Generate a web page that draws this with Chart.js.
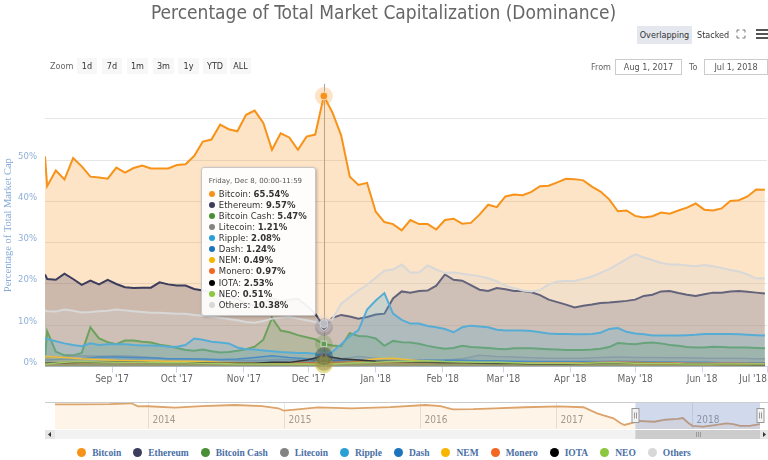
<!DOCTYPE html>
<html lang="en">
<head>
<meta charset="UTF-8">
<meta name="viewport" content="width=device-width, initial-scale=1.0">
<title>Percentage of Total Market Capitalization (Dominance)</title>
<script src="https://cdn.jsdelivr.net/npm/chart.js"></script>
<style>
  body { margin: 0; width: 768px; height: 460px; overflow: hidden; position: relative; background: #fff;
         font-family: "Liberation Sans Narrow", "DejaVu Sans Condensed", "Liberation Sans", sans-serif; }
  #mainBox { position: absolute; left: 0; top: 0; width: 768px; height: 395px; }
  #navBox { position: absolute; left: 0; top: 395px; width: 768px; height: 47px; }
  .btn { position: absolute; top: 58px; height: 16px; line-height: 16px; font-size: 9px; color: #333;
         text-align: center; background: #f7f7f7; }
  .lbl { position: absolute; font-size: 9px; color: #666; }
  .box { position: absolute; top: 59px; height: 14px; line-height: 14px; border: 1px solid #ccc; font-size: 9px;
         color: #555; text-align: center; background: #fff; }
  #tip { position: absolute; display: none; background: rgba(255,255,255,0.93); border: 1px solid #c6c6c6;
         border-radius: 3px; box-shadow: 1px 1px 3px rgba(0,0,0,0.25); padding: 9px 8px 4px 7px;
         font-family: "DejaVu Sans", sans-serif; color: #333; white-space: nowrap; pointer-events: none; }
  #tip .t { font-size: 7px; color: #555; margin-bottom: 4px; }
  #tip .r { font-size: 8.5px; line-height: 11.1px; }
  #tip .d { display: inline-block; width: 6px; height: 6px; border-radius: 50%; margin-right: 4px; }
  #legend { position: absolute; left: 0; top: 448px; width: 768px; text-align: center; white-space: nowrap;
            font: bold 9.5px "Liberation Serif", serif; color: #4a6fa5; }
  #legend .li { margin: 0 6px; }
  #legend .li i { display: inline-block; width: 9px; height: 9px; border-radius: 50%; margin-right: 6px; vertical-align: -1px; }
</style>
</head>
<body>
  <div id="mainBox"><canvas id="mainChart"></canvas></div>
  <div id="navBox"><canvas id="navChart"></canvas></div>

  <div class="btn" style="left:637px;top:26px;width:55px;height:18px;line-height:18px;background:#e4e7ee;">Overlapping</div>
  <div class="lbl" style="left:697px;top:26px;line-height:18px;color:#333;">Stacked</div>
  <svg style="position:absolute;left:736px;top:29px" width="10" height="10" viewBox="0 0 10 10">
    <path d="M1 3.5V1h2.5M6.5 1H9v2.5M9 6.5V9H6.5M3.5 9H1V6.5" fill="none" stroke="#777" stroke-width="1"/>
  </svg>
  <svg style="position:absolute;left:756px;top:29px" width="12" height="10" viewBox="0 0 12 10">
    <path d="M0 1h12M0 5h12M0 9h12" stroke="#555" stroke-width="2"/>
  </svg>

  <div class="lbl" style="left:50px;top:58px;line-height:16px;">Zoom</div>
  <div class="btn" style="left:77px;width:20px;">1d</div>
  <div class="btn" style="left:102px;width:20px;">7d</div>
  <div class="btn" style="left:127px;width:21px;">1m</div>
  <div class="btn" style="left:153px;width:21px;">3m</div>
  <div class="btn" style="left:178px;width:21px;">1y</div>
  <div class="btn" style="left:203px;width:24px;">YTD</div>
  <div class="btn" style="left:230px;width:21px;">ALL</div>

  <div class="lbl" style="right:157px;top:59px;line-height:16px;">From</div>
  <div class="box" style="left:615px;width:65px;">Aug 1, 2017</div>
  <div class="lbl" style="left:689px;top:59px;line-height:16px;">To</div>
  <div class="box" style="left:704px;width:62px;">Jul 1, 2018</div>

  <div id="tip"></div>
  <div id="legend"></div>

<script>
// x positions: days since Aug 1, 2017
const days = [0,1,5,9,13,17,21,25,29,33,37,41,45,49,53,57,61,65,69,73,77,81,85,89,93,97,101,105,109,113,
  117,121,125,129,133,137,141,145,149,153,157,161,165,169,173,177,181,185,189,193,197,201,205,209,213,217,
  221,225,229,233,237,241,245,249,253,257,261,265,269,273,277,281,285,289,293,297,301,305,309,313,317,321,
  325,329,333];
const minorDays = [0,1,9,17,25,33,41,49,57,65,73,81,89,97,105,113,121,129,137,145,153,161,169,177,185,193,
  201,209,217,225,233,241,249,257,265,273,281,289,297,305,313,321,329,333];

const bitcoin = [50.9,43.7,47.5,45.3,50.5,48.5,46,45.8,45.5,48.2, 47,48.1,48.7,48,48,48,48.8,49,51,54.5,
  55,58.6,57.5,57,61,62,59,52.5,56.5,55.5, 52.5,55.7,56.2,65.54,61.5,56,46,44,44.5,37.5,
  35,34.5,33,35.5,34.5,34.5,33.2,35.5,35.8,34.6, 34.8,36.8,39.2,38.6,41.2,41.7,41.5,42.3,43.7,43.8,
  44.6,45.5,45.4,45.1,43.6,42.4,40.5,37.6,37.8,36.5, 36.1,36.4,37.3,37,37.8,38.5,39.5,38,37.8,38.3,
  40.1,40.3,41.2,42.9,42.8];
const ethereum = [22.3,21.2,21,22.5,21.2,19.8,20.8,19.9,21,20, 19.2,19,19.1,19.1,20.4,19.9,19.6,19.6,18.8,18.4,
  18,17.3,16.8,16.4,15.2,14.8,15.5,16.5,15.8,16.2, 16.4,14.8,12.8,9.57,11.8,12.5,12.1,11.6,12,12.6,
  12.8,16.5,18.2,17.9,18.3,18.4,19.6,22.3,21,20.8, 19.7,18.6,18.3,19,18.7,18.3,18.3,18,17.3,16.2,
  15.6,15,14.3,14.7,15,15.4,15.5,15.7,15.9,16.2, 17.1,17.4,18.2,18.3,17.8,17.4,17.1,17.5,17.9,17.9,
  18.2,18.3,18.1,17.9,17.7];
const bitcoinCash = [2,8.5,3.6,2.7,2.7,3.3,9.5,6.8,5.9,5.4, 6.3,6.3,6,5.8,5.3,5,4.5,4,3.8,4.1,
  3.7,3.4,3.5,3.8,4.2,4.8,6.5,11.8,8.7,8.3, 7.6,7.1,6.6,5.47,5.1,4.9,8.1,7.4,7.3,6.8,
  5,6.2,5.9,5.8,5.5,5,4.6,4.3,4.5,5, 4.7,4.6,4.5,4.3,4.2,4.4,4.4,4.4,4.3,4.2,
  4.1,4,4,4,4.1,4.3,4.7,5.7,5.5,5.4, 5.7,5.8,5.6,5.2,5,4.7,4.6,4.6,4.8,4.7,
  4.6,4.6,4.6,4.5,4.4];
const litecoin = [2.1,2.1,2.3,2.6,2.5,2.6,2.5,2.2,1.9,1.8, 1.7,1.6,1.5,1.4,1.6,1.7,1.6,1.21,1.9,2.4,
  2.0,1.6,1.6,1.5,1.6,1.9,2.7,2.4,2.3,2.1, 2.0,2.0,2.0,2.2,2.3,2.2,2.2,2.1,2.1,2.0, 2.0,2.0,1.9,1.9];
const ripple = [6.9,6.7,6.1,5.6,5.2,4.9,5.6,5.2,5.4,5.4, 5.4,5.2,5.1,5.1,5,4.8,4.8,5.2,6.8,6.5,
  6,5.8,5.6,4.6,4.2,4.1,3.9,3.7,3.5,3.4, 3.3,3.3,3.1,2.08,3.6,5.4,7.3,8.8,13.8,16,
  17.8,12.8,11.3,10.4,10.4,9.8,9.5,9.1,8.3,9.5, 9.9,9.7,9.5,8.9,8.7,8.7,8.7,8.6,8.3,8,
  7.9,7.9,7.8,7.8,7.9,8.2,9.1,9.3,8.4,8, 7.8,7.5,7.5,7.5,7.5,7.6,7.7,7.9,7.9,7.9,
  7.9,7.8,7.7,7.6,7.5];
const dash = [1.6,1.6,1.8,1.9,2.3,2.3,2.2,2.1,1.9,1.9, 1.8,1.7,1.8,2.2,2.6,2.2,1.9,1.24,1.6,1.6,
  1.4,1.4,1.4,1.5,1.5,1.5,1.4,1.4,1.3,1.2, 1.2,1.2,1.2,1.2,1.3,1.2,1.1,1.1,1.0,1.0, 0.9,0.9,0.9,0.9];
const nem = [2.4,2.4,2.2,1.9,1.7,1.5,1.4,1.4,1.3,1.3, 1.2,1.0,0.9,0.8,0.8,0.7,0.7,0.49,0.9,1.3,
  1.9,2.0,1.6,1.2,1.0,0.9,0.8,0.8,0.7,0.7, 0.7,0.7,0.7,0.8,0.8,0.7,0.6,0.6,0.6,0.5, 0.5,0.5,0.5,0.5];
const monero = [0.7,0.7,0.8,0.9,1.0,1.0,0.9,0.9,0.9,0.9, 0.8,0.8,0.7,0.7,0.8,0.8,0.9,0.97,1.0,1.0,
  0.9,0.9,0.9,0.9,0.9,0.9,0.9,0.8,0.8,0.8, 0.9,0.9,0.9,1.0,1.1,1.0,0.9,0.9,0.8,0.8, 0.8,0.8,0.7,0.7];
const iota = [0.8,0.8,0.9,1.0,1.0,1.1,1.0,0.9,0.9,0.9, 0.9,0.8,0.8,0.8,1.0,1.0,1.6,2.53,1.9,1.6,
  1.3,1.2,1.1,1.0,0.9,0.9,0.8,0.7,0.7,0.6, 0.6,0.6,0.7,0.8,0.8,0.8,0.7,0.7,0.6,0.6, 0.5,0.5,0.4,0.4];
const neo = [0.6,0.6,1.0,1.2,1.1,1.0,1.0,0.9,0.9,0.9, 0.8,0.7,0.6,0.6,0.6,0.6,0.6,0.51,0.7,0.9,
  1.0,1.2,1.3,1.4,1.2,1.1,1.0,1.0,0.9,0.8, 0.8,0.8,0.8,0.9,0.9,0.8,0.7,0.7,0.6,0.6, 0.6,0.6,0.6,0.6];
const others = [13.6,13.4,13.3,13.8,13.5,13.1,13.2,13.4,13.5,13.8, 13.6,13.4,13.2,13,13,12.9,12.8,12.8,12.5,12.3,
  12.1,11.8,11.5,11.2,10.8,10.6,11,11.6,11.8,12, 11.6,11.2,10.8,10.38,11.5,15.2,16.8,18.4,19.8,21.5,
  23.2,23.5,24.7,22.8,22.8,24.5,23.5,22.7,22.8,22.5, 22.2,21.9,21.4,20.7,19.6,19,18.4,18.2,18.5,19.9,
  20.6,20.7,20.7,21.2,21.8,22.7,23.6,24.8,26,27.2, 26.4,25.8,25.1,24.7,24.7,24.5,24.3,24.6,24.3,23.9,
  23.4,23,22.3,21.3,21.4];

const seriesNames = ['Bitcoin', 'Ethereum', 'Bitcoin Cash', 'Litecoin', 'Ripple', 'Dash', 'NEM', 'Monero', 'IOTA', 'NEO', 'Others'];
const seriesValues = [bitcoin, ethereum, bitcoinCash, litecoin, ripple, dash, nem, monero, iota, neo, others];
const seriesDays = [days, days, days, minorDays, days, minorDays, minorDays, minorDays, minorDays, minorDays, days];

// month ticks (first one is Aug 1 and stays blank)
const monthTickDays = [0, 31, 61, 92, 122, 153, 184, 212, 243, 273, 304, 334];
const monthLabels = ['', "Sep '17", "Oct '17", "Nov '17", "Dec '17", "Jan '18", "Feb '18", "Mar '18", "Apr '18", "May '18", "Jun '18", "Jul '18"];
const yTicks = [0, 10, 20, 30, 40, 50, 60];

// navigator: whole-history Bitcoin share, x in years
const navYears = [2013.32,2013.5,2013.72,2013.88,2013.93,2014.0,2014.2,2014.4,2014.64,2014.84,2014.96,2015.0,2015.1,
  2015.25,2015.5,2015.78,2016.04,2016.15,2016.24,2016.39,2016.55,2016.77,2017.02,2017.2,2017.3,2017.42,2017.47,
  2017.5,2017.58,2017.6,2017.72,2017.8,2017.89,2017.93,2017.97,2018.0,2018.08,2018.15,2018.25,2018.3,2018.35,
  2018.42,2018.496];
const navBitcoin = [91,91,91.5,93.8,86,86.5,83,87,89.6,87,81.4,75.4,78.9,83.8,81.4,84.5,89.6,87,78.9,79.5,81.4,84,86,
  84,69,56.6,45,40,47,50,48,53,55,57.3,45,38,36,39,44,42,38,38,42];
const navYearTicks = [2014, 2015, 2016, 2017, 2018];
const rangeStart = 2017.581, rangeEnd = 2018.496;

const activeDay = 129; // Friday, Dec 8

// styling
const seriesColors = ['#f7931a', '#3c3c5d', '#4a8f36', '#838383', '#2a9fd6', '#1c75bc', '#f8b500', '#f26822', '#000000', '#8dc63f', '#d8d8d8'];
const markerStyles = ['circle', 'rectRot', 'rect', 'triangle', 'triangle', 'circle', 'rectRot', 'rect', 'triangle', 'triangle', 'circle'];
const markerRotation = [0, 0, 0, 0, 180, 0, 0, 0, 0, 180, 0];
const sansNarrow = '"Liberation Sans Narrow", "DejaVu Sans Condensed", "Liberation Sans", sans-serif';

function alpha(hex, a) {
  const n = parseInt(hex.slice(1), 16);
  return `rgba(${(n >> 16) & 255},${(n >> 8) & 255},${n & 255},${a})`;
}

const weekdays = ['Sunday', 'Monday', 'Tuesday', 'Wednesday', 'Thursday', 'Friday', 'Saturday'];
const months = ['Jan', 'Feb', 'Mar', 'Apr', 'May', 'Jun', 'Jul', 'Aug', 'Sep', 'Oct', 'Nov', 'Dec'];
function dayTitle(d) {
  const dt = new Date(2017, 7, 1 + d);
  return `${weekdays[dt.getDay()]}, ${months[dt.getMonth()]} ${dt.getDate()}, 00:00-11:59`;
}

function renderTooltip(context) {
  const { chart, tooltip } = context;
  const el = document.getElementById('tip');
  if (tooltip.opacity === 0 || !tooltip.dataPoints || !tooltip.dataPoints.length) {
    el.style.display = 'none';
    return;
  }
  const pts = tooltip.dataPoints.slice().sort((a, b) => a.datasetIndex - b.datasetIndex);
  const day = pts[0].parsed.x;
  let html = `<div class="t">${dayTitle(day)}</div>`;
  pts.forEach(p => {
    html += `<div class="r"><span class="d" style="background:${seriesColors[p.datasetIndex]}"></span>` +
      `${p.dataset.label}: <b>${p.parsed.y.toFixed(2)}%</b></div>`;
  });
  el.innerHTML = html;
  el.style.display = 'block';
  const x = chart.scales.x.getPixelForValue(day);
  el.style.left = (x - 8 - el.offsetWidth) + 'px';
  el.style.top = (chart.chartArea.top + 83) + 'px';
}

// crosshair behind the series, halos on hovered points
const hoverDecor = {
  id: 'hoverDecor',
  beforeDatasetsDraw(chart) {
    const act = chart.getActiveElements();
    if (!act.length) return;
    const { ctx, chartArea } = chart;
    const x = Math.round(act[0].element.x) + 0.5;
    ctx.save();
    ctx.strokeStyle = '#a8a8a8';
    ctx.lineWidth = 1;
    ctx.beginPath();
    ctx.moveTo(x, chartArea.top);
    ctx.lineTo(x, chartArea.bottom);
    ctx.stroke();
    ctx.restore();
  },
  afterDatasetsDraw(chart) {
    const { ctx } = chart;
    ctx.save();
    chart.getActiveElements().forEach(a => {
      ctx.fillStyle = alpha(seriesColors[a.datasetIndex], 0.25);
      ctx.beginPath();
      ctx.arc(a.element.x, a.element.y, 9, 0, Math.PI * 2);
      ctx.fill();
    });
    ctx.restore();
  }
};

const datasets = seriesNames.map((name, i) => ({
  label: name,
  data: seriesDays[i].map((d, j) => ({ x: d, y: seriesValues[i][j] })),
  borderColor: seriesColors[i],
  backgroundColor: alpha(seriesColors[i], 0.25),
  borderWidth: seriesDays[i] === days ? 2 : 1.5,
  fill: 'origin',
  tension: 0,
  pointRadius: 0,
  pointHoverRadius: 4,
  pointHoverBorderWidth: 1,
  pointHoverBorderColor: '#ffffff',
  pointHoverBackgroundColor: seriesColors[i],
  pointStyle: markerStyles[i],
  pointRotation: markerRotation[i],
  order: seriesNames.length - i   // first series drawn first (bottom)
}));

const mainChart = new Chart(document.getElementById('mainChart'), {
  type: 'line',
  data: { datasets },
  options: {
    responsive: true,
    maintainAspectRatio: false,
    animation: false,
    events: [],
    layout: { padding: { left: 0, right: 1, top: 0, bottom: 0 } },
    scales: {
      x: {
        type: 'linear',
        min: 0,
        max: 334,
        afterBuildTicks: s => { s.ticks = monthTickDays.map(v => ({ value: v })); },
        afterFit: s => { s.height = 28.5; s.paddingLeft = 0; s.paddingRight = 0; },
        ticks: {
          autoSkip: false,
          maxRotation: 0,
          align: 'inner',
          padding: 1,
          color: '#666',
          font: { size: 10, family: sansNarrow },
          callback: v => monthLabels[monthTickDays.indexOf(v)]
        },
        grid: {
          drawOnChartArea: false,
          tickLength: 6,
          tickColor: c => c.index === 0 ? 'rgba(0,0,0,0)' : '#ccd6eb'
        },
        border: { color: '#ccd6eb' }
      },
      y: {
        min: 0,
        max: 68.5,
        afterBuildTicks: s => { s.ticks = yTicks.map(v => ({ value: v })); },
        afterFit: s => { s.width = 45; },
        ticks: {
          padding: 8,
          labelOffset: -4,
          color: '#8fb0d8',
          font: { size: 9.5, family: sansNarrow },
          callback: v => v === 60 ? '' : v + '%'
        },
        grid: { color: '#e6e6e6', drawTicks: false },
        border: { display: false },
        title: {
          display: true,
          text: 'Percentage of Total Market Cap',
          color: '#84a9d6',
          font: { size: 10.5, family: '"Liberation Serif", serif' },
          padding: { top: 2, bottom: 0 }
        }
      }
    },
    plugins: {
      title: {
        display: true,
        text: 'Percentage of Total Market Capitalization (Dominance)',
        color: '#666',
        font: { size: 19, family: sansNarrow, weight: 'normal' },
        padding: { top: 3, bottom: 58 }
      },
      legend: { display: false },
      tooltip: { enabled: false, external: renderTooltip }
    }
  },
  plugins: [hoverDecor]
});

// show the Dec 8 tooltip like the screenshot
const activeEls = datasets.map((ds, i) => ({ datasetIndex: i, index: seriesDays[i].indexOf(activeDay) }));
mainChart.setActiveElements(activeEls);
mainChart.tooltip.setActiveElements(activeEls, {
  x: mainChart.scales.x.getPixelForValue(activeDay),
  y: mainChart.chartArea.top
});
mainChart.update();

// navigator extras: year grid, selected range, handles, scrollbar
const navDecor = {
  id: 'navDecor',
  beforeDatasetsDraw(chart) {
    const { ctx, chartArea, scales } = chart;
    ctx.save();
    ctx.strokeStyle = '#e6e6e6';
    ctx.lineWidth = 1;
    ctx.fillStyle = '#999';
    ctx.font = '10px ' + sansNarrow;
    ctx.textBaseline = 'middle';
    navYearTicks.forEach(yr => {
      const x = Math.round(scales.x.getPixelForValue(yr)) + 0.5;
      ctx.beginPath();
      ctx.moveTo(x, chartArea.top);
      ctx.lineTo(x, chartArea.bottom);
      ctx.stroke();
      ctx.fillText(String(yr), x + 4, chartArea.bottom - 9);
    });
    ctx.restore();
  },
  afterDatasetsDraw(chart) {
    const { ctx, chartArea, scales } = chart;
    const x1 = scales.x.getPixelForValue(rangeStart);
    const x2 = scales.x.getPixelForValue(rangeEnd);
    const top = chartArea.top, bottom = chartArea.bottom;
    const left = 45, right = 768;
    ctx.save();
    // selected range mask
    ctx.fillStyle = 'rgba(102,133,194,0.3)';
    ctx.fillRect(x1, top, x2 - x1, bottom - top);
    // outline
    ctx.strokeStyle = '#cccccc';
    ctx.lineWidth = 1;
    ctx.beginPath();
    ctx.moveTo(left, top + 0.5);
    ctx.lineTo(right, top + 0.5);
    ctx.stroke();
    // handles
    [x1, x2].forEach(hx => {
      const hxR = Math.round(hx) + 0.5;
      const cy = (top + bottom) / 2;
      ctx.fillStyle = '#f2f2f2';
      ctx.strokeStyle = '#999';
      ctx.fillRect(hxR - 3.5, cy - 7, 7, 14);
      ctx.strokeRect(hxR - 3.5, cy - 7, 7, 14);
      ctx.beginPath();
      ctx.moveTo(hxR - 1, cy - 3); ctx.lineTo(hxR - 1, cy + 3);
      ctx.moveTo(hxR + 1, cy - 3); ctx.lineTo(hxR + 1, cy + 3);
      ctx.stroke();
    });
    // scrollbar
    const sy = bottom + 1, sh = 9;
    ctx.fillStyle = '#f2f2f2';
    ctx.fillRect(left, sy, right - left, sh);
    ctx.fillStyle = '#cccccc';
    ctx.fillRect(x1, sy, x2 - x1, sh);
    ctx.fillStyle = '#e6e6e6';
    ctx.fillRect(left, sy, 10, sh);
    ctx.fillRect(right - 8, sy, 8, sh);
    ctx.strokeStyle = '#999';
    ctx.beginPath();
    const gx = Math.round((x1 + x2) / 2) + 0.5;
    [-2, 0, 2].forEach(o => { ctx.moveTo(gx + o, sy + 2); ctx.lineTo(gx + o, sy + sh - 2); });
    ctx.stroke();
    ctx.fillStyle = '#333';
    ctx.beginPath();
    ctx.moveTo(left + 6, sy + 2); ctx.lineTo(left + 3, sy + 4.5); ctx.lineTo(left + 6, sy + 7);
    ctx.fill();
    ctx.beginPath();
    ctx.moveTo(right - 5, sy + 2); ctx.lineTo(right - 2, sy + 4.5); ctx.lineTo(right - 5, sy + 7);
    ctx.fill();
    ctx.restore();
  }
};

new Chart(document.getElementById('navChart'), {
  type: 'line',
  data: {
    datasets: [{
      data: navYears.map((x, i) => ({ x, y: navBitcoin[i] })),
      borderColor: '#dca36a',
      borderWidth: 1.8,
      backgroundColor: 'rgba(247,147,26,0.1)',
      fill: 'origin',
      pointRadius: 0,
      tension: 0
    }]
  },
  options: {
    responsive: true,
    maintainAspectRatio: false,
    animation: false,
    events: [],
    layout: { padding: { left: 55, right: 8, top: 7, bottom: 13 } },
    scales: {
      x: { type: 'linear', display: false, min: 2013.32, max: 2018.496 },
      y: { display: false, min: 30, max: 97 }
    },
    plugins: { legend: { display: false }, tooltip: { enabled: false } }
  },
  plugins: [navDecor]
});

// legend row
const legendEl = document.getElementById('legend');
seriesNames.forEach((name, i) => {
  const it = document.createElement('span');
  it.className = 'li';
  it.innerHTML = `<i style="background:${seriesColors[i]}"></i>${name}`;
  legendEl.appendChild(it);
});
</script>
</body>
</html>
